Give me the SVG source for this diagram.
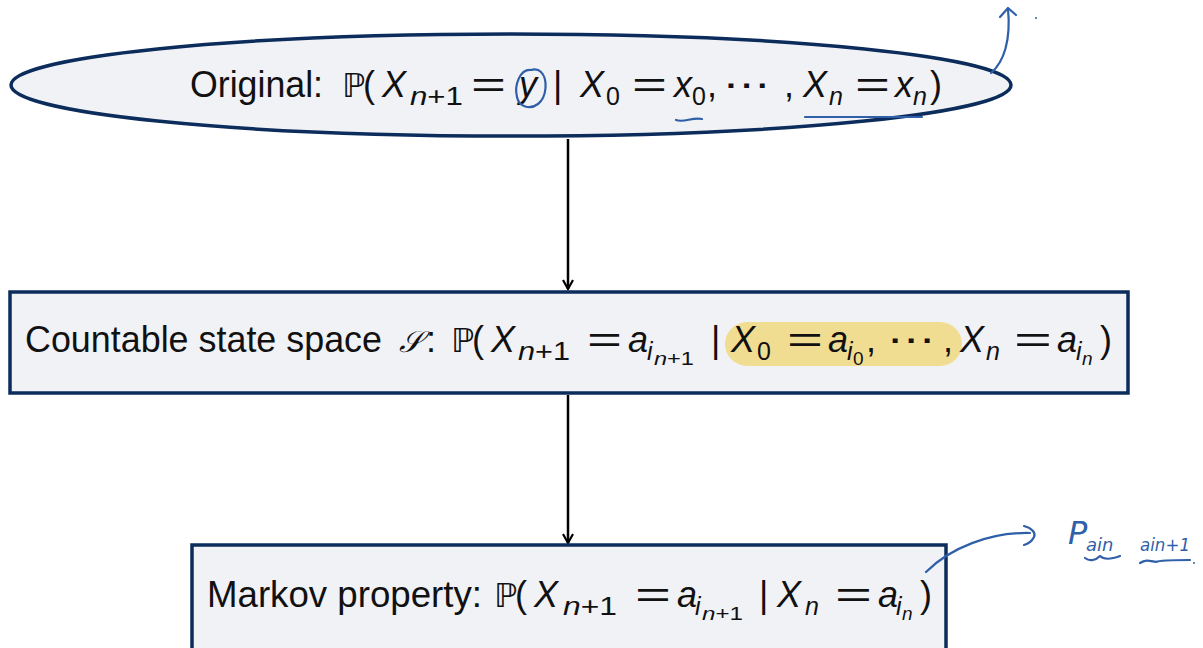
<svg xmlns="http://www.w3.org/2000/svg" width="1203" height="648" viewBox="0 0 1203 648">
<defs>
<style>
.node{fill:#f1f2f6;stroke:#0c2c5c;stroke-width:3.5}
text{font-family:"Liberation Sans","DejaVu Sans",sans-serif;fill:#111}
.r{font-size:36px}
.i{font-size:36px;font-style:italic}
.s{font-size:25px}
.si{font-size:25px;font-style:italic}
.ss{font-size:19px}
.ssi{font-size:19px;font-style:italic}
.bb{font-family:"DejaVu Sans",sans-serif;font-size:33px}
.ink{fill:none;stroke:#2f5fa8;stroke-width:2.2;stroke-linecap:round;stroke-linejoin:round}
.edge{stroke:#000;stroke-width:2.5;fill:none}
.hw{font-family:"DejaVu Sans",sans-serif;font-style:italic;fill:#2f5fa8}
</style>
<marker id="ah" viewBox="0 0 12 12" refX="10" refY="6" markerWidth="12" markerHeight="12" markerUnits="userSpaceOnUse" orient="auto">
<path d="M1,1 L10,6 L1,11" fill="none" stroke="#000" stroke-width="2.2"/>
</marker>
</defs>
<rect width="1203" height="648" fill="#fff"/>
<g id="connectors">
<line class="edge" x1="568" y1="139" x2="568" y2="289" marker-end="url(#ah)"/>
<line class="edge" x1="568" y1="395" x2="568" y2="543" marker-end="url(#ah)"/>
</g>
<g id="node-original">
<ellipse class="node" cx="511" cy="85" rx="500" ry="51"/>
<text class="r" x="190" y="97" textLength="133" lengthAdjust="spacingAndGlyphs">Original:</text>
<text class="bb" x="342" y="97">ℙ</text>
<text class="r" x="363" y="97">(</text>
<text class="i" x="382" y="97">X</text>
<text class="s" x="410" y="105" textLength="53" lengthAdjust="spacingAndGlyphs"><tspan font-style="italic">n</tspan>+1</text>
<text class="r" x="471" y="97" textLength="35" lengthAdjust="spacingAndGlyphs">=</text>
<text class="i" x="519" y="97">y</text>
<text class="r" x="553" y="97">|</text>
<text class="i" x="580" y="97">X</text>
<text class="s" x="606" y="105">0</text>
<text class="r" x="632" y="97" textLength="35" lengthAdjust="spacingAndGlyphs">=</text>
<text class="i" x="674" y="97">x</text>
<text class="s" x="692" y="105">0</text>
<text class="r" x="707" y="97">,</text>
<text class="r" x="723" y="97" textLength="47" lengthAdjust="spacingAndGlyphs">⋯</text>
<text class="r" x="784" y="97">,</text>
<text class="i" x="803" y="97">X</text>
<text class="si" x="829" y="105">n</text>
<text class="r" x="855" y="97" textLength="35" lengthAdjust="spacingAndGlyphs">=</text>
<text class="i" x="895" y="97">x</text>
<text class="si" x="913" y="105">n</text>
<text class="r" x="930" y="97">)</text>
</g>
<g id="node-countable">
<rect class="node" x="10" y="292" width="1118" height="101"/>
<rect x="725" y="322" width="237" height="44" rx="22" fill="#f1dd92"/>
<text class="r" x="25" y="352" textLength="357" lengthAdjust="spacingAndGlyphs">Countable state space</text>
<text x="399" y="352" font-family="DejaVu Serif,serif" font-style="italic" font-size="30">𝒮</text>
<text class="r" x="426" y="352">:</text>
<text class="bb" x="451" y="352">ℙ</text>
<text class="r" x="472" y="352">(</text>
<text class="i" x="491" y="352">X</text>
<text class="s" x="518" y="360" textLength="52" lengthAdjust="spacingAndGlyphs"><tspan font-style="italic">n</tspan>+1</text>
<text class="r" x="587" y="352" textLength="35" lengthAdjust="spacingAndGlyphs">=</text>
<text class="i" x="628" y="352">a</text>
<text class="si" x="647" y="360">i</text>
<text class="ss" x="654" y="365" textLength="40" lengthAdjust="spacingAndGlyphs"><tspan font-style="italic">n</tspan>+1</text>
<text class="r" x="711" y="352">|</text>
<text class="i" x="731" y="352">X</text>
<text class="s" x="757" y="360">0</text>
<text class="r" x="787" y="352" textLength="36" lengthAdjust="spacingAndGlyphs">=</text>
<text class="i" x="828" y="352">a</text>
<text class="si" x="847" y="360">i</text>
<text class="ss" x="853" y="365">0</text>
<text class="r" x="866" y="352">,</text>
<text class="r" x="887" y="352" textLength="48" lengthAdjust="spacingAndGlyphs">⋯</text>
<text class="r" x="943" y="352">,</text>
<text class="i" x="960" y="352">X</text>
<text class="si" x="986" y="360">n</text>
<text class="r" x="1014" y="352" textLength="38" lengthAdjust="spacingAndGlyphs">=</text>
<text class="i" x="1057" y="352">a</text>
<text class="si" x="1076" y="360">i</text>
<text class="ssi" x="1082" y="365">n</text>
<text class="r" x="1100" y="352">)</text>
</g>
<g id="node-markov">
<rect class="node" x="192" y="545" width="754" height="106"/>
<text class="r" x="207" y="607" textLength="275" lengthAdjust="spacingAndGlyphs">Markov property:</text>
<text class="bb" x="494" y="607">ℙ</text>
<text class="r" x="515" y="607">(</text>
<text class="i" x="534" y="607">X</text>
<text class="s" x="563" y="615" textLength="54" lengthAdjust="spacingAndGlyphs"><tspan font-style="italic">n</tspan>+1</text>
<text class="r" x="635" y="607" textLength="36" lengthAdjust="spacingAndGlyphs">=</text>
<text class="i" x="677" y="607">a</text>
<text class="si" x="695" y="615">i</text>
<text class="ss" x="702" y="620" textLength="41" lengthAdjust="spacingAndGlyphs"><tspan font-style="italic">n</tspan>+1</text>
<text class="r" x="759" y="607">|</text>
<text class="i" x="777" y="607">X</text>
<text class="si" x="805" y="615">n</text>
<text class="r" x="835" y="607" textLength="37" lengthAdjust="spacingAndGlyphs">=</text>
<text class="i" x="878" y="607">a</text>
<text class="si" x="896" y="615">i</text>
<text class="ssi" x="902" y="620">n</text>
<text class="r" x="920" y="607">)</text>
</g>
<g id="annotations">
<path class="ink" d="M531,70 C520,69 514,85 517,97 C519,107 530,110 538,104 C547,97 548,79 541,72 C538,69 534,69 531,70"/>
<path class="ink" d="M676,120 C684,123 692,117 702,119"/>
<line class="ink" x1="805" y1="117" x2="922" y2="117"/>
<path class="ink" d="M991,73 C1004,62 1011,40 1008,9"/>
<path class="ink" d="M1000,17 L1008,8 L1016,15"/>
<circle cx="1036" cy="18" r="1" fill="#2f5fa8"/>
<path class="ink" d="M926,572 C950,548 990,532 1030,533"/>
<path class="ink" d="M1024,526 C1032,528 1036,533 1034,537 C1032,541 1028,544 1024,545"/>
<text class="hw" x="1068" y="544" font-size="32">P</text>
<text class="hw" x="1086" y="551" font-size="18">ain</text>
<text class="hw" x="1140" y="551" font-size="18" textLength="50" lengthAdjust="spacingAndGlyphs">ain+1</text>
<path class="ink" d="M1085,558 C1090,562 1096,560 1100,556 C1104,560 1112,559 1120,556"/>
<path class="ink" d="M1140,563 C1146,559 1150,561 1156,562 C1160,560 1170,560 1190,560"/>
<circle cx="1194" cy="563" r="1" fill="#2f5fa8"/>
</g>
</svg>
